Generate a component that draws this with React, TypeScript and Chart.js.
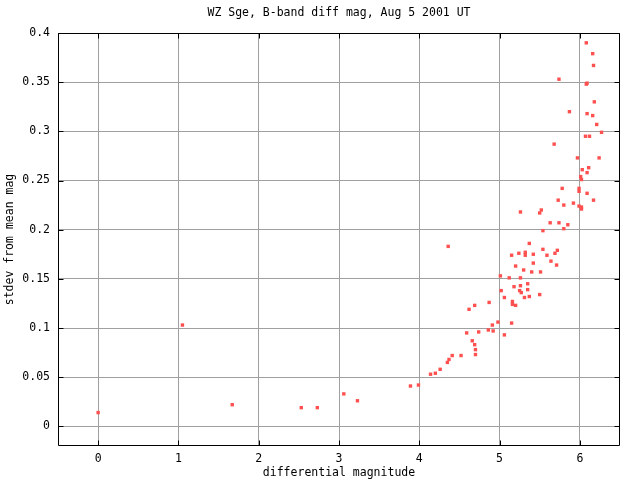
import React, { useEffect, useRef } from "react";
import { Chart, registerables } from "chart.js";

Chart.register(...registerables);

const TITLE = "WZ Sge, B-band diff mag, Aug 5 2001 UT";
const X_TITLE = "differential magnitude";
const Y_TITLE = "stdev from mean mag";

const X_TICKS = [0, 1, 2, 3, 4, 5, 6];
const Y_TICKS = [0, 0.05, 0.1, 0.15, 0.2, 0.25, 0.3, 0.35, 0.4];

const diffMag = [
  0.0, 1.05, 1.67, 2.53, 2.73, 3.06, 3.23, 3.89, 3.99,
  4.14, 4.2, 4.26, 4.35, 4.37, 4.41, 4.52, 4.7, 4.7, 4.69, 4.66, 4.59, 4.74, 4.86, 4.92, 4.91, 4.98, 5.06, 5.15,
  4.62, 4.69, 4.87, 5.16, 5.16, 5.2, 5.06, 5.02, 5.18, 5.25, 5.27, 5.26, 5.31, 5.37, 5.35, 5.35, 5.5,
  5.01, 5.12, 5.26, 5.2, 5.3, 5.4, 5.51, 5.42, 5.64, 5.71, 5.15, 5.24, 5.32, 5.32, 5.42, 5.54, 5.59, 5.69, 5.72,
  5.37, 4.36, 5.54, 5.63, 5.74, 5.8, 5.85, 5.26, 5.5, 5.52, 5.73, 5.8, 5.92, 5.99, 6.02, 6.02, 6.17,
  6.08, 6.16, 6.17, 5.74, 6.09, 6.08, 6.18, 5.87, 6.09, 6.16, 6.21, 6.27, 6.07, 6.12, 5.68, 5.97, 6.24,
  6.11, 6.03, 6.09, 6.01, 6.02, 5.78, 5.99, 5.99, 6.09,
];

const stdev = [
  0.014, 0.103, 0.022, 0.019, 0.019, 0.033, 0.026, 0.041, 0.042,
  0.053, 0.054, 0.058, 0.065, 0.068, 0.072, 0.072, 0.073, 0.078, 0.083, 0.087, 0.095, 0.096, 0.098, 0.097, 0.103, 0.106, 0.093, 0.105,
  0.119, 0.123, 0.126, 0.127, 0.124, 0.123, 0.131, 0.138, 0.142, 0.138, 0.136, 0.143, 0.131, 0.132, 0.139, 0.145, 0.134,
  0.153, 0.151, 0.151, 0.163, 0.159, 0.157, 0.157, 0.166, 0.168, 0.164, 0.174, 0.176, 0.177, 0.174, 0.175, 0.18, 0.174, 0.176, 0.179,
  0.186, 0.183, 0.199, 0.207, 0.207, 0.201, 0.205, 0.218, 0.217, 0.22, 0.23, 0.225, 0.227, 0.224, 0.223, 0.221, 0.23,
  0.39, 0.379, 0.367, 0.353, 0.349, 0.348, 0.33, 0.32, 0.318, 0.316, 0.307, 0.299, 0.295, 0.295, 0.287, 0.273, 0.273,
  0.263, 0.261, 0.258, 0.254, 0.251, 0.242, 0.242, 0.239, 0.237,
];

const FONT = "'DejaVu Sans Mono', monospace";

const framePlugin = {
  id: "gnuFrame",
  afterDraw(chart: any) {
    const { ctx, chartArea } = chart;
    const { left, right, top, bottom } = chartArea;
    const xs = chart.scales.x;
    const ys = chart.scales.y;
    ctx.save();
    ctx.strokeStyle = "#000000";
    ctx.lineWidth = 1;
    const L = Math.round(left) + 0.5;
    const R = Math.round(right) - 0.5;
    const T = Math.round(top) + 0.5;
    const B = Math.round(bottom) - 0.5;
    ctx.beginPath();
    ctx.rect(L, T, R - L, B - T);
    const tl = 5;
    X_TICKS.forEach((v) => {
      const px = Math.round(xs.getPixelForValue(v)) + 0.5;
      ctx.moveTo(px, B);
      ctx.lineTo(px, B - tl);
      ctx.moveTo(px, T);
      ctx.lineTo(px, T + tl);
    });
    Y_TICKS.forEach((v) => {
      const py = Math.round(ys.getPixelForValue(v)) + 0.5;
      ctx.moveTo(L, py);
      ctx.lineTo(L + tl, py);
      ctx.moveTo(R, py);
      ctx.lineTo(R - tl, py);
    });
    ctx.stroke();

    ctx.fillStyle = "#000000";
    ctx.font = `11.5px ${FONT}`;
    ctx.textAlign = "center";
    ctx.textBaseline = "middle";
    ctx.fillText(TITLE, (left + right) / 2, 13);
    ctx.fillText(X_TITLE, (left + right) / 2, 473);
    ctx.translate(10, (top + bottom) / 2);
    ctx.rotate(-Math.PI / 2);
    ctx.fillText(Y_TITLE, 0, 0);
    ctx.restore();
  },
};

export default function App() {
  const ref = useRef<HTMLCanvasElement>(null);
  useEffect(() => {
    if (!ref.current) return;
    const points = diffMag.map((x, i) => ({ x, y: stdev[i] }));
    const chart = new Chart(ref.current, {
      type: "scatter",
      data: {
        datasets: [
          {
            data: points,
            backgroundColor: "#ff5050",
            borderWidth: 0,
            pointStyle: "rect",
            pointRadius: 2.4,
            pointHoverRadius: 2.4,
          },
        ],
      },
      options: {
        animation: false,
        responsive: false,
        devicePixelRatio: 1,
        layout: { padding: { top: 33, right: 20, left: 0, bottom: 0 } },
        plugins: {
          legend: { display: false },
          tooltip: { enabled: false },
          title: { display: false },
        },
        scales: {
          x: {
            type: "linear",
            min: -0.5,
            max: 6.5,
            afterFit: (s: any) => {
              s.height = 34;
            },
            afterBuildTicks: (s: any) => {
              s.ticks = X_TICKS.map((v) => ({ value: v }));
            },
            grid: { color: "#a0a0a0", lineWidth: 1, drawTicks: false },
            border: { display: false },
            ticks: {
              color: "#000000",
              padding: 6,
              font: { family: FONT, size: 11.5 },
              maxRotation: 0,
              callback: (v: any) => String(v),
            },
          },
          y: {
            type: "linear",
            min: -0.02,
            max: 0.4,
            afterFit: (s: any) => {
              s.width = 58;
            },
            afterBuildTicks: (s: any) => {
              s.ticks = Y_TICKS.map((v) => ({ value: v }));
            },
            grid: { color: "#a0a0a0", lineWidth: 1, drawTicks: false },
            border: { display: false },
            ticks: {
              color: "#000000",
              padding: 8,
              font: { family: FONT, size: 11.5 },
              callback: (v: any) => String(Number(Number(v).toFixed(2))),
            },
          },
        },
      },
      plugins: [framePlugin],
    });
    return () => chart.destroy();
  }, []);
  return (
    <div style={{ position: "absolute", left: 0, top: 0, width: 640, height: 480, background: "#fff" }}>
      <canvas ref={ref} width={640} height={480} style={{ width: 640, height: 480 }} />
    </div>
  );
}
